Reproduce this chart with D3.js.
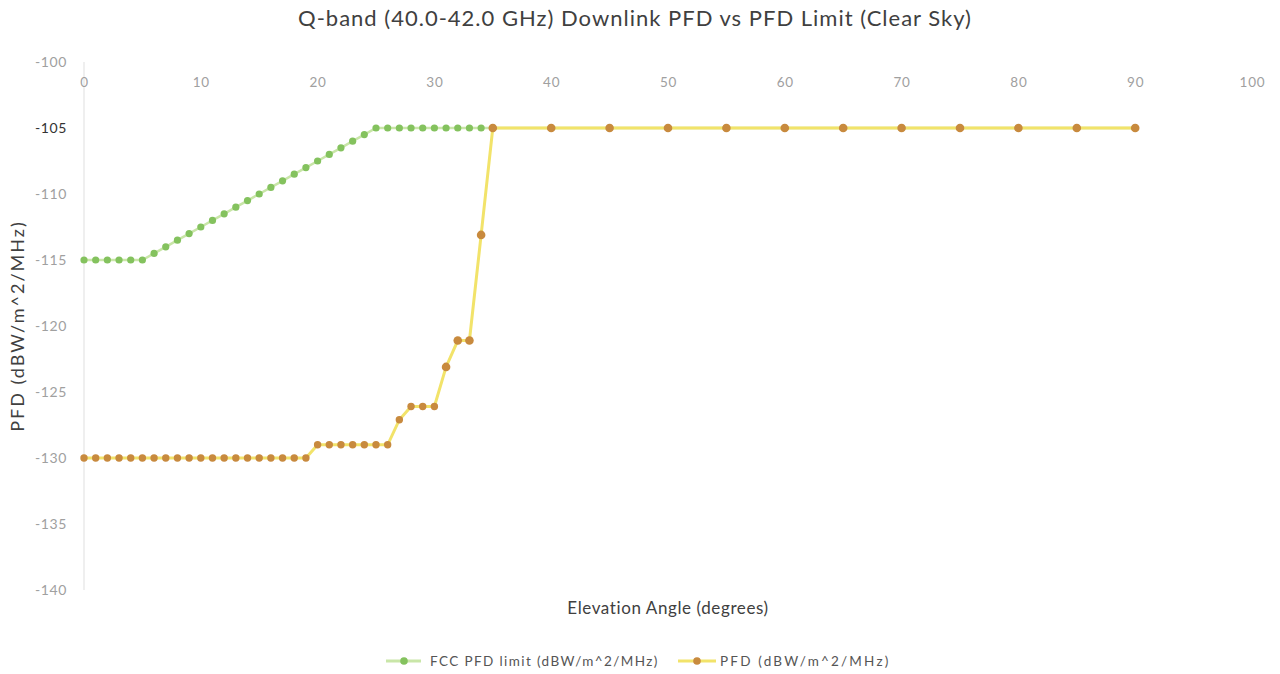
<!DOCTYPE html>
<html><head><meta charset="utf-8">
<script src="https://cdn.jsdelivr.net/npm/d3@7/dist/d3.min.js"></script>
<style>body{margin:0;background:#fff;}svg{display:block;font-family:Lato,"Open Sans",sans-serif;}</style>
</head><body><svg id="c" width="1280" height="674"></svg>
<script>
const angles = [0,1,2,3,4,5,6,7,8,9,10,11,12,13,14,15,16,17,18,19,20,21,22,23,24,25,26,27,28,29,30,31,32,33,34,35,40,45,50,55,60,65,70,75,80,85,90];
const fccLimit = [-115,-115,-115,-115,-115,-115,-114.5,-114,-113.5,-113,-112.5,-112,-111.5,-111,-110.5,-110,-109.5,-109,-108.5,-108,-107.5,-107,-106.5,-106,-105.5,-105,-105,-105,-105,-105,-105,-105,-105,-105,-105,-105,-105,-105,-105,-105,-105,-105,-105,-105,-105,-105,-105];
const pfd = [-130,-130,-130,-130,-130,-130,-130,-130,-130,-130,-130,-130,-130,-130,-130,-130,-130,-130,-130,-130,-129,-129,-129,-129,-129,-129,-129,-127.1,-126.1,-126.1,-126.1,-123.1,-121.1,-121.1,-113.1,-105,-105,-105,-105,-105,-105,-105,-105,-105,-105,-105,-105];
const xTicks = [0,10,20,30,40,50,60,70,80,90,100];
const yTicks = [-100,-105,-110,-115,-120,-125,-130,-135,-140];
const title = "Q-band (40.0-42.0 GHz) Downlink PFD vs PFD Limit (Clear Sky)";
const xTitle = "Elevation Angle (degrees)";
const yTitle = "PFD (dBW/m^2/MHz)";
const seriesNames = ["FCC PFD limit (dBW/m^2/MHz)", "PFD (dBW/m^2/MHz)"];

const svg = d3.select("#c");
const x = d3.scaleLinear().domain([0,100]).range([84,1252]);
const y = d3.scaleLinear().domain([-140,-100]).range([590,62]);

svg.append("text").attr("x",635).attr("y",26).attr("text-anchor","middle")
  .attr("font-size",22).attr("letter-spacing",1).attr("fill","#404040").text(title);

// y axis line
svg.append("line").attr("x1",x(0)).attr("x2",x(0)).attr("y1",y(-100)).attr("y2",y(-140))
  .attr("stroke","#efefef").attr("stroke-width",2);

// x axis (top)
const xAxis = svg.append("g").attr("transform",`translate(0,${y(-100)})`)
  .call(d3.axisBottom(x).tickValues(xTicks).tickSize(0).tickPadding(15).tickFormat(d=>String(d)));
xAxis.select(".domain").remove();
xAxis.selectAll("text").attr("font-size",13.5).attr("letter-spacing",0.8).attr("fill","#a0a0a0").attr("font-family","Lato,sans-serif");

// y axis
const yAxis = svg.append("g").attr("transform",`translate(67,0)`)
  .call(d3.axisLeft(y).tickValues(yTicks).tickSize(0).tickPadding(0).tickFormat(d=>String(d)));
yAxis.select(".domain").remove();
yAxis.selectAll("text").attr("font-size",14).attr("letter-spacing",0.6).attr("fill",d=>d===-105?"#333":"#a0a0a0").attr("font-family","Lato,sans-serif");

// axis titles
svg.append("text").attr("x",668).attr("y",614).attr("text-anchor","middle")
  .attr("font-size",17).attr("letter-spacing",0.6).attr("fill","#404040").text(xTitle);
svg.append("text").attr("transform",`translate(24,${326}) rotate(-90)`).attr("text-anchor","middle")
  .attr("font-size",18).attr("letter-spacing",2).attr("fill","#404040").text(yTitle);

const line = d3.line().x(d=>x(d[0])).y(d=>y(d[1]));
const fccData = angles.map((a,i)=>[a,fccLimit[i]]);
const pfdData = angles.map((a,i)=>[a,pfd[i]]);

svg.append("path").datum(fccData).attr("d",line).attr("fill","none")
  .attr("stroke","#c9e6a8").attr("stroke-width",2.5);
svg.append("g").selectAll("circle").data(fccData).join("circle")
  .attr("cx",d=>x(d[0])).attr("cy",d=>y(d[1])).attr("r",3.6).attr("fill","#84c25e");

svg.append("path").datum(pfdData).attr("d",line).attr("fill","none")
  .attr("stroke","#f2e36a").attr("stroke-width",3);
svg.append("g").selectAll("circle").data(pfdData).join("circle")
  .attr("cx",d=>x(d[0])).attr("cy",d=>y(d[1])).attr("r",d=>d[0]>30?4.3:3.7).attr("fill","#c88a3e");

// legend
const leg = [{x0:386,x1:421,cx:404,line:"#c9e6a8",dot:"#84c25e",tx:430,ls:1.4,name:seriesNames[0]},
             {x0:678,x1:716,cx:697,line:"#f2e36a",dot:"#c88a3e",tx:720,ls:2.2,name:seriesNames[1]}];
const ly = 661;
leg.forEach(l=>{
  svg.append("line").attr("x1",l.x0).attr("x2",l.x1).attr("y1",ly).attr("y2",ly).attr("stroke",l.line).attr("stroke-width",3);
  svg.append("circle").attr("cx",l.cx).attr("cy",ly).attr("r",3.8).attr("fill",l.dot);
  svg.append("text").attr("x",l.tx).attr("y",ly+5).attr("font-size",13.5).attr("letter-spacing",l.ls).attr("fill","#555").text(l.name);
});
</script></body></html>
